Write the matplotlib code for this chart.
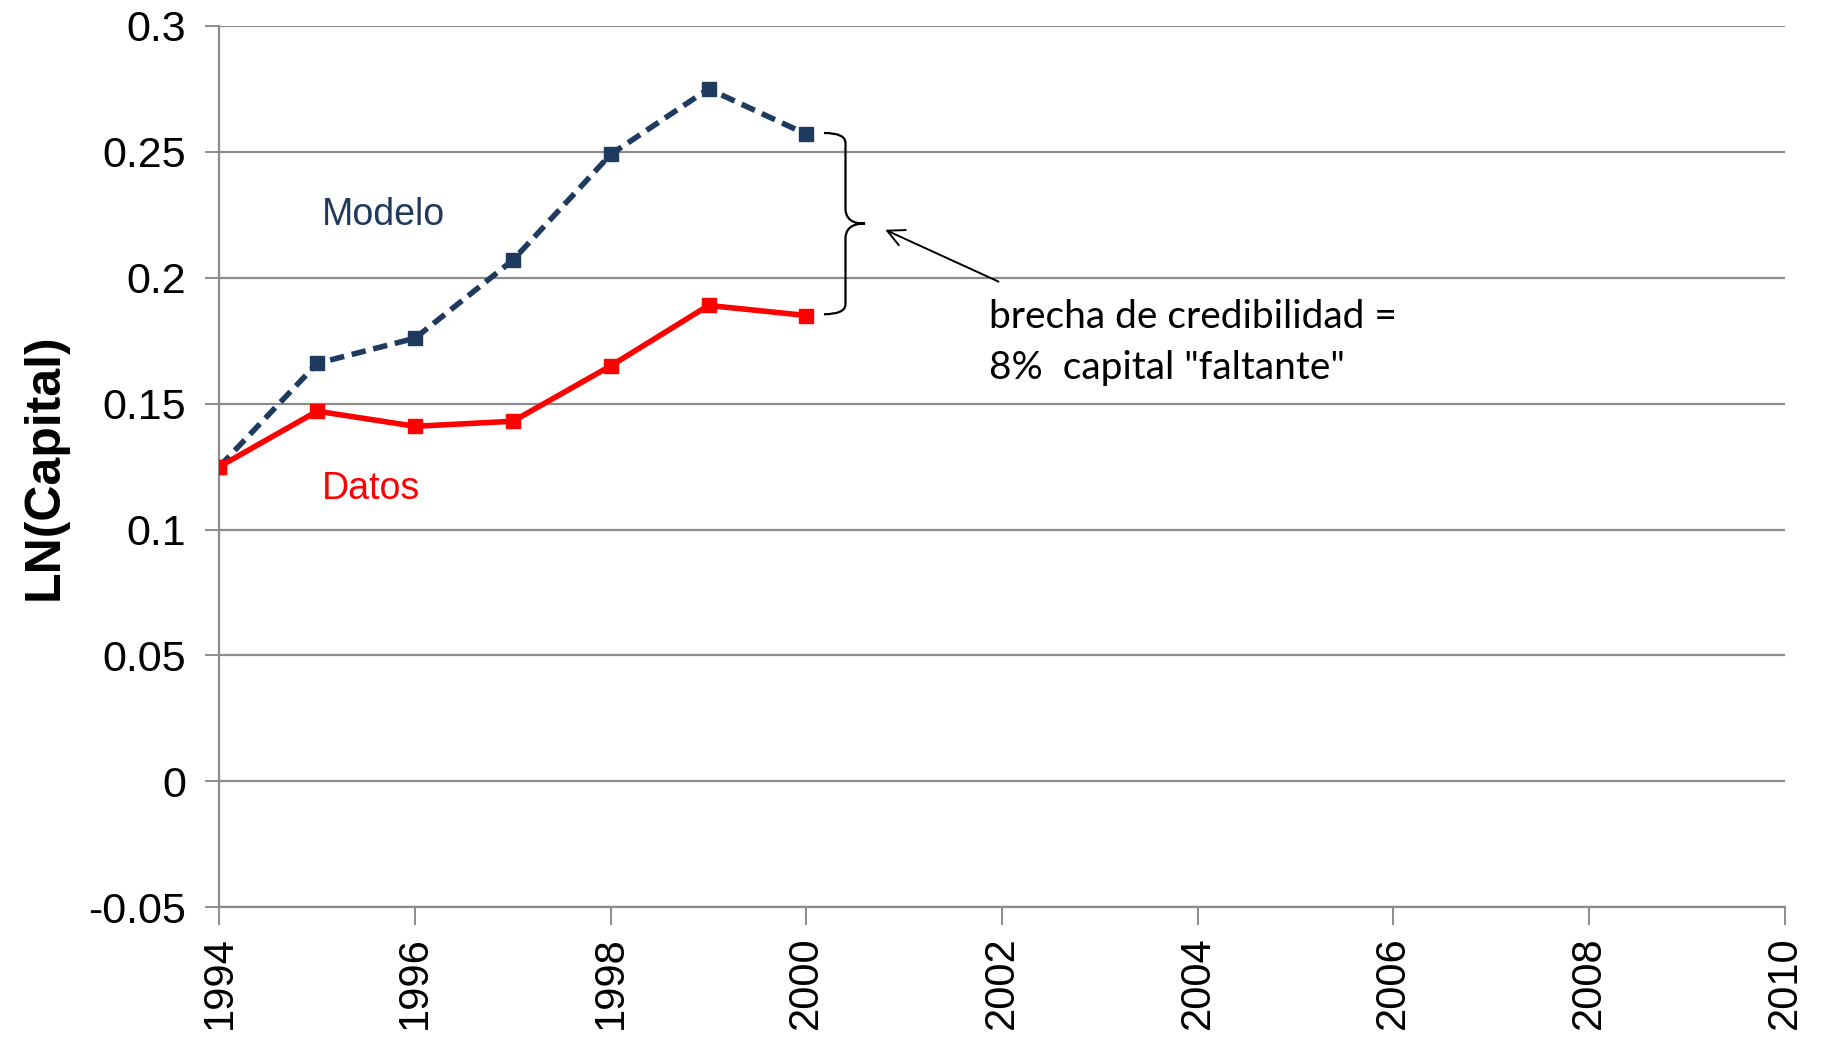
import numpy as np
import matplotlib.pyplot as plt
from matplotlib.path import Path
from matplotlib.patches import PathPatch

years = [1994, 1995, 1996, 1997, 1998, 1999, 2000]
modelo = [0.125, 0.166, 0.176, 0.207, 0.249, 0.275, 0.257]
datos = [0.125, 0.147, 0.141, 0.143, 0.165, 0.189, 0.185]

xticks = [1994, 1996, 1998, 2000, 2002, 2004, 2006, 2008, 2010]
yticks = [-0.05, 0, 0.05, 0.1, 0.15, 0.2, 0.25, 0.3]
ytick_labels = ['-0.05', '0', '0.05', '0.1', '0.15', '0.2', '0.25', '0.3']

navy = '#1f3a5f'
red = '#ff0000'
grey = '#8c8c8c'

plt.rcParams['font.family'] = ['Liberation Sans', 'DejaVu Sans']

fig = plt.figure(figsize=(18.21, 10.38), dpi=100)
ax = fig.add_axes([0.1205, 0.126, 0.8595, 0.849])

ax.plot(years, modelo, '--', color=navy, lw=4, dashes=(2.6, 1.4),
        marker='s', ms=10, zorder=3)
ax.plot(years, datos, '-', color=red, lw=4, marker='s', ms=10, zorder=4)

ax.set_xlim(1994, 2010)
ax.set_ylim(-0.05, 0.3)
ax.set_xticks(xticks)
ax.set_xticklabels([str(t) for t in xticks], rotation=90, fontsize=30)
ax.set_yticks(yticks)
ax.set_yticklabels(ytick_labels, fontsize=31)
ax.yaxis.grid(True, color=grey, lw=1.6)
ax.set_axisbelow(True)
for s in ['top', 'right']:
    ax.spines[s].set_visible(False)
for s in ['left', 'bottom']:
    ax.spines[s].set_color(grey)
    ax.spines[s].set_linewidth(1.6)
ax.tick_params(axis='y', length=10, width=1.4, color=grey, pad=14)
ax.tick_params(axis='x', length=13, width=1.4, color=grey, pad=8)

ax.set_ylabel('LN(Capital)', fontsize=36, fontweight='bold')
ax.yaxis.set_label_coords(-0.097, 0.5)

ax.text(1995.05, 0.225, 'Modelo', color=navy, fontsize=27, va='center')
ax.text(1995.05, 0.116, 'Datos', color=red, fontsize=27, va='center')

# curly brace between the two series in 2000
x0, x1, x2 = 2000.18, 2000.40, 2000.60
yt, yb = 0.2575, 0.1855
ym = (yt + yb) / 2
verts = [(x0, yt), (x1, yt), (x1, yt - 0.004),
         (x1, ym + 0.006),
         (x1, ym), (x2 - 0.05, ym), (x2, ym),
         (x2 - 0.05, ym), (x1, ym), (x1, ym - 0.006),
         (x1, yb + 0.004),
         (x1, yb), (x0, yb)]
codes = [Path.MOVETO, Path.CURVE3, Path.CURVE3,
         Path.LINETO,
         Path.CURVE4, Path.CURVE4, Path.CURVE4,
         Path.CURVE4, Path.CURVE4, Path.CURVE4,
         Path.LINETO,
         Path.CURVE3, Path.CURVE3]
ax.add_patch(PathPatch(Path(verts, codes), fill=False, color='black', lw=1.6))

ax.annotate('', xy=(2000.78, 0.2195), xytext=(2001.99, 0.198),
            arrowprops=dict(arrowstyle='->', color='black', lw=1.4,
                            mutation_scale=30))

ax.text(2001.87, 0.1846, 'brecha de credibilidad =', fontsize=28,
        va='center', family=['Lato', 'DejaVu Sans'])
ax.text(2001.87, 0.1643, '8%  capital "faltante"', fontsize=28,
        va='center', family=['Lato', 'DejaVu Sans'])

fig.savefig('out.png', dpi=100)
